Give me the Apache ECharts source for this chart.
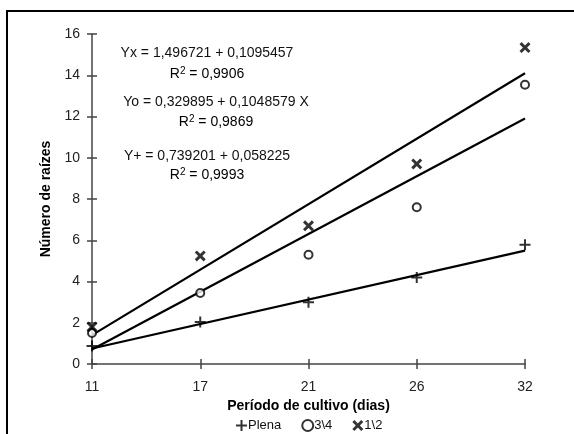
<!DOCTYPE html>
<html>
<head>
<meta charset="utf-8">
<script src="https://cdn.jsdelivr.net/npm/echarts@6/dist/echarts.min.js"></script>
<style>
  html, body { margin: 0; padding: 0; background: #fff; }
  #chart { width: 574px; height: 434px; }
</style>
</head>
<body>
<div id="chart"></div>
<script>
// periodo de cultivo (dias)
const dias = ['11', '17', '21', '26', '32']
const yTicks = { min: 0, max: 16, interval: 2 }

// pontos observados
const plena = [0.87, 2.04, 3.0, 4.2, 5.78]
const tresQuartos = [1.5, 3.44, 5.3, 7.6, 13.54]
const meio = [1.8, 5.24, 6.7, 9.7, 15.34]

// retas de tendencia (inicio em 11, fim em 32)
const trendMeio = [1.4, 14.1]
const trendTres = [0.7, 11.9]
const trendPlena = [0.75, 5.5]

const equacoes = [
  { t: 'Yx = 1,496721 + 0,1095457', r: '0,9906', x: 207, y: 53, ry: 74 },
  { t: 'Yo = 0,329895 + 0,1048579 X', r: '0,9869', x: 216, y: 102, ry: 122 },
  { t: 'Y+ = 0,739201 + 0,058225', r: '0,9993', x: 207, y: 156, ry: 175 }
]

const plusPath = 'path://M0,4.5h11v2h-11z M4.5,0h2v11h-2z'
const crossPath = 'path://M0,1.9L1.9,0L10,8.1L8.1,10Z M8.1,0L10,1.9L1.9,10L0,8.1Z'

function trend(ends) {
  // so as pontas; o meio fica sem valor e a linha liga as duas
  return dias.map((d, i) => i === 0 ? ends[0] : (i === dias.length - 1 ? ends[1] : '-'))
}

const font = 'Arial, "Liberation Sans", sans-serif'
const axisCol = '#444'

const trendStyle = {
  type: 'line',
  symbol: 'none',
  connectNulls: true,
  silent: true,
  lineStyle: { color: '#000', width: 2.2 },
  z: 2
}

const graphics = [
  {
    type: 'rect',
    shape: { x: 7, y: 11, width: 620, height: 500 },
    style: { fill: 'none', stroke: '#000', lineWidth: 2 },
    silent: true
  }
]
equacoes.forEach(e => {
  graphics.push({
    type: 'text', x: e.x, y: e.y,
    style: { text: e.t, font: '14px ' + font, fill: '#111', align: 'center', verticalAlign: 'middle' }
  })
  graphics.push({
    type: 'text', x: e.x, y: e.ry,
    style: {
      text: '{n|R}{s|2}{n| = ' + e.r + '}',
      align: 'center', verticalAlign: 'middle',
      rich: {
        n: { fontSize: 14, fontFamily: font, color: '#111' },
        s: { fontSize: 10, fontFamily: font, color: '#111', verticalAlign: 'top', padding: [0, 0, 6, 0] }
      }
    }
  })
})

const option = {
  animation: false,
  backgroundColor: '#fff',
  textStyle: { fontFamily: font },
  grid: { left: 92, right: 49, top: 34, bottom: 70 },
  legend: {
    data: ['Plena', '3\\4', '1\\2'],
    top: 414,
    left: 231,
    itemGap: 20,
    itemWidth: 11,
    itemHeight: 11,
    textStyle: { fontSize: 13, color: '#111', fontFamily: font, padding: [0, 0, 0, -4] }
  },
  xAxis: [
    {
      type: 'category',
      data: dias,
      boundaryGap: false,
      name: 'Período de cultivo (dias)',
      nameLocation: 'middle',
      nameGap: 33,
      nameTextStyle: { fontWeight: 'bold', fontSize: 14, color: '#000', fontFamily: font },
      axisLine: { lineStyle: { color: axisCol, width: 1.5 } },
      axisTick: { alignWithLabel: true, length: 5, lineStyle: { color: axisCol, width: 1.5 } },
      axisLabel: { fontSize: 14, color: '#222', margin: 16 },
      splitLine: { show: false }
    },
    {
      type: 'category',
      data: dias,
      boundaryGap: false,
      position: 'bottom',
      axisLine: { show: false },
      axisTick: { inside: true, length: 5, lineStyle: { color: axisCol, width: 1.5 } },
      axisLabel: { show: false },
      splitLine: { show: false }
    }
  ],
  yAxis: [
    {
      type: 'value',
      min: yTicks.min,
      max: yTicks.max,
      interval: yTicks.interval,
      name: 'Número de raízes',
      nameLocation: 'middle',
      nameRotate: 90,
      nameGap: 39,
      nameTextStyle: { fontWeight: 'bold', fontSize: 14, color: '#000', fontFamily: font },
      axisLine: { show: true, lineStyle: { color: axisCol, width: 1.5 } },
      axisTick: { show: true, length: 5, lineStyle: { color: axisCol, width: 1.5 } },
      axisLabel: { fontSize: 14, color: '#222', margin: 12 },
      splitLine: { show: false }
    },
    {
      type: 'value',
      min: yTicks.min,
      max: yTicks.max,
      interval: yTicks.interval,
      position: 'left',
      axisLine: { show: false },
      axisTick: { show: true, inside: true, length: 5, lineStyle: { color: axisCol, width: 1.5 } },
      axisLabel: { show: false },
      splitLine: { show: false }
    }
  ],
  series: [
    Object.assign({ name: 'tMeio', data: trend(trendMeio) }, trendStyle),
    Object.assign({ name: 'tTres', data: trend(trendTres) }, trendStyle),
    Object.assign({ name: 'tPlena', data: trend(trendPlena) }, trendStyle),
    {
      name: 'Plena',
      type: 'scatter',
      data: plena,
      symbol: plusPath,
      symbolSize: 11,
      itemStyle: { color: '#000' },
      z: 3
    },
    {
      name: '3\\4',
      type: 'scatter',
      data: tresQuartos,
      symbol: 'emptyCircle',
      symbolSize: 8,
      itemStyle: { color: '#000', borderColor: '#000', borderWidth: 2 },
      z: 3
    },
    {
      name: '1\\2',
      type: 'scatter',
      data: meio,
      symbol: crossPath,
      symbolSize: 11,
      itemStyle: { color: '#000' },
      z: 3
    }
  ],
  graphic: graphics
}

const chart = echarts.init(document.getElementById('chart'))
chart.setOption(option)
</script>
</body>
</html>
